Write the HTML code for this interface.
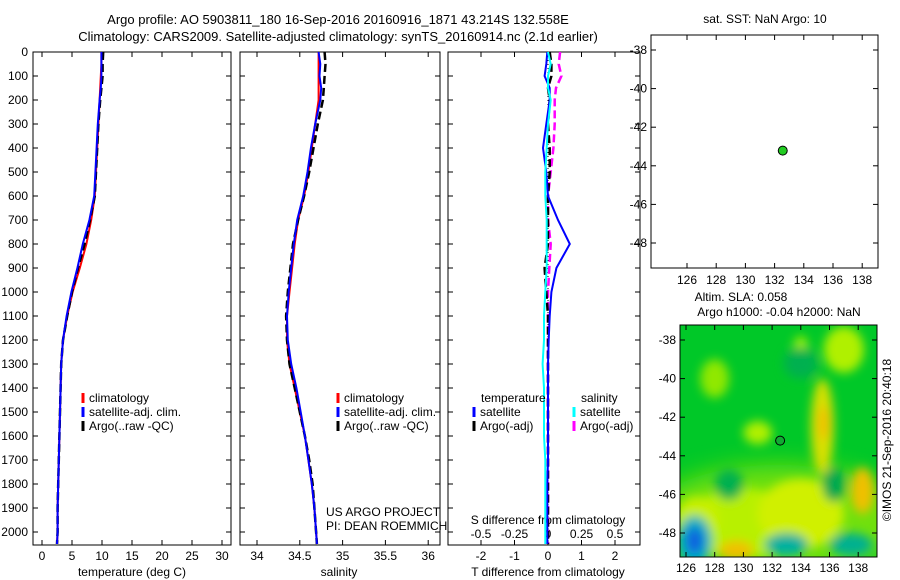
<!DOCTYPE html>
<html><head><meta charset="utf-8"><style>
body{margin:0;background:#fff}
svg{display:block;font-family:"Liberation Sans",sans-serif}
text{font-size:12px;fill:#000}
</style></head><body>
<svg id="c" width="900" height="580" viewBox="0 0 900 580" xmlns="http://www.w3.org/2000/svg">
<defs><filter id="bl" x="-50%" y="-50%" width="200%" height="200%"><feGaussianBlur stdDeviation="5"/></filter>
<filter id="bl2" x="-50%" y="-50%" width="200%" height="200%"><feGaussianBlur stdDeviation="12"/></filter>
<clipPath id="mc"><rect x="680" y="325" width="197" height="232"/></clipPath></defs>
<text x="338" y="24" text-anchor="middle" style="font-size:13px">Argo profile: AO 5903811_180 16-Sep-2016 20160916_1871 43.214S 132.558E</text>
<text x="338" y="41" text-anchor="middle" style="font-size:13px">Climatology: CARS2009. Satellite-adjusted climatology: synTS_20160914.nc (2.1d earlier)</text>
<g id="g"></g>
</svg>
<script>
// depth levels
const depths=[0,50,100,150,200,300,400,500,600,700,800,900,1000,1100,1200,1300,1400,1500,1600,1700,1800,1900,2000,2050];
const tempClim=[9.9,9.9,9.8,9.7,9.6,9.4,9.2,9.0,8.8,8.2,7.4,6.3,5.1,4.2,3.5,3.2,3.1,3.0,2.9,2.8,2.7,2.6,2.6,2.5];
const tempSat=[9.9,9.9,9.9,9.8,9.6,9.3,9.1,8.9,8.7,7.9,6.8,5.9,4.9,4.1,3.5,3.2,3.1,3.0,2.9,2.8,2.7,2.6,2.6,2.5];
const tempArgo=[10.2,10.1,10.1,9.9,9.7,9.4,9.2,9.0,8.8,8.0,7.1,6.0,5.0,4.2,3.5,3.2,3.1,3.0,2.9,2.8,2.7,2.6,2.6,2.5];
const salClim=[34.72,34.72,34.72,34.72,34.72,34.68,34.64,34.60,34.55,34.48,34.44,34.41,34.38,34.35,34.35,34.38,34.44,34.50,34.56,34.60,34.64,34.67,34.69,34.70];
const salSat=[34.72,34.74,34.73,34.75,34.74,34.68,34.63,34.59,34.54,34.47,34.43,34.40,34.37,34.35,34.36,34.40,34.46,34.51,34.56,34.60,34.64,34.67,34.69,34.70];
const salArgo=[34.79,34.80,34.79,34.78,34.77,34.71,34.66,34.61,34.55,34.48,34.42,34.39,34.36,34.34,34.35,34.38,34.44,34.50,34.56,34.61,34.65,34.67,34.69,34.70];
const dTsat=[-0.02,-0.05,-0.1,0.05,0.05,-0.05,-0.15,-0.05,0.0,0.3,0.65,0.25,0.1,0.05,0.02,0.0,0.0,0.0,0.0,0.0,-0.02,-0.02,-0.02,-0.02];
const dTargo=[0.05,0.1,0.1,0.0,0.05,0.0,0.05,0.05,0.0,0.0,0.0,-0.1,-0.05,0.0,0.0,0.0,0.0,0.0,0.0,0.0,0.0,0.0,0.0,0.0];
const dSsat=[0.0,0.02,0.0,0.0,0.02,0.0,-0.01,-0.02,-0.02,-0.01,-0.01,-0.01,-0.02,-0.03,-0.03,-0.04,-0.03,-0.03,-0.03,-0.02,-0.02,-0.02,-0.02,-0.02];
const dSargo=[0.09,0.08,0.1,0.06,0.05,0.05,0.04,0.02,0.0,0.0,0.02,0.01,0.0,0.0,0.0,0.0,0.0,0.0,0.0,0.0,0.0,0.0,0.0,0.0];
const depthTicks=[0,100,200,300,400,500,600,700,800,900,1000,1100,1200,1300,1400,1500,1600,1700,1800,1900,2000];
const tempTicks=[0,5,10,15,20,25,30];
const salTicks=[34,34.5,35,35.5,36];
const dTTicks=[-2,-1,0,1,2];
const dSTicks=[-0.5,-0.25,0,0.25,0.5];
const sstLonTicks=[126,128,130,132,134,136,138];
const sstLatTicks=[-38,-40,-42,-44,-46,-48];
const argoLon=132.558, argoLat=-43.214;

const NS='http://www.w3.org/2000/svg';const G=document.getElementById('g');
function el(t,a,p){const e=document.createElementNS(NS,t);for(const k in a)e.setAttribute(k,a[k]);(p||G).appendChild(e);return e;}
function txt(s,x,y,anc,size,name){const e=el('text',{x:x,y:y,'text-anchor':anc||'start'});if(size)e.style.fontSize=size+'px';e.textContent=s;


return e;}
const Y=d=>52+d*0.24;
const xT=v=>42+v*6;
const xS=v=>257+(v-34)*85.6;
const xDT=v=>548+v*33.5;
const xDS=v=>548+v*134;

function frame(x0,x1,y0,y1,name){const r=el('rect',{x:x0,y:y0,width:x1-x0,height:y1-y0,fill:'none',stroke:'#000','stroke-width':1});

}
function xticks(ticks,fx,y0,y1,ly,name){ticks.forEach(t=>{const x=fx(t);
el('line',{x1:x,x2:x,y1:y1,y2:y1-5,stroke:'#000'});el('line',{x1:x,x2:x,y1:y0,y2:y0+5,stroke:'#000'});
if(ly)txt(String(t),x,ly,'middle',12,name);});}
function yticks(x0,x1,labels){depthTicks.forEach(d=>{const y=Y(d);el('line',{x1:x0,x2:x0+5,y1:y,y2:y,stroke:'#000'});el('line',{x1:x1,x2:x1-5,y1:y,y2:y,stroke:'#000'});
if(labels)txt(String(d),28,y+4,'end',12,'depth-tick-label');});}
function line(vals,fx,color,w,dash,name){const pts=vals.map((v,i)=>fx(v).toFixed(1)+','+Y(depths[i]).toFixed(1)).join(' ');
const p=el('polyline',{points:pts,fill:'none',stroke:color,'stroke-width':w});if(dash)p.setAttribute('stroke-dasharray',dash);

}
function legItem(x,y,color,label,name){el('line',{x1:x,x2:x,y1:y-9,y2:y+1,stroke:color,'stroke-width':3});txt(label,x+6,y,'start',12,name);}

// panel 1
frame(33,231,52,545,'temperature-panel');yticks(33,231,true);
xticks(tempTicks,xT,52,545,560,'temperature-tick-label');
txt('temperature (deg C)',132,576,'middle',12,'temperature-axis-title');
line(tempClim,xT,'#f00',2,null,'temp-climatology-line');
line(tempArgo,xT,'#000',2.5,'8,4','temp-argo-line');
line(tempSat,xT,'#00f',2,null,'temp-satellite-line');
legItem(83,402,'#f00','climatology','legend-climatology');legItem(83,416,'#00f','satellite-adj. clim.','legend-satellite');legItem(83,430,'#000','Argo(..raw -QC)','legend-argo');

// panel 2
frame(240,440,52,545,'salinity-panel');yticks(240,440,false);
xticks(salTicks,xS,52,545,560,'salinity-tick-label');
txt('salinity',339,576,'middle',12,'salinity-axis-title');
line(salClim,xS,'#f00',2,null,'sal-climatology-line');
line(salArgo,xS,'#000',2.5,'8,4','sal-argo-line');
line(salSat,xS,'#00f',2,null,'sal-satellite-line');
legItem(338,402,'#f00','climatology','legend-climatology');legItem(338,416,'#00f','satellite-adj. clim.','legend-satellite');legItem(338,430,'#000','Argo(..raw -QC)','legend-argo');
txt('US ARGO PROJECT',326,516,'start',12,'project-label');txt('PI: DEAN ROEMMICH',326,530,'start',12,'pi-label');

// panel 3
frame(448,640,52,545,'difference-panel');yticks(448,640,false);
xticks(dTTicks,xDT,52,545,560,'t-diff-tick-label');
dSTicks.forEach(t=>txt(String(t),xDS(t),538,'middle',12,'s-diff-tick-label'));
txt('S difference from climatology',548,524,'middle',12,'s-diff-axis-title');
txt('T difference from climatology',548,576,'middle',12,'t-diff-axis-title');
el('line',{x1:548,x2:548,y1:52,y2:545,stroke:'#000','stroke-dasharray':'1,3'});
line(dSargo,xDS,'#f0f',2.5,'8,4','s-diff-argo-line');
line(dTargo,xDT,'#000',2.5,'8,4','t-diff-argo-line');
line(dTsat,xDT,'#00f',2,null,'t-diff-satellite-line');
line(dSsat,xDS,'#0ff',2,null,'s-diff-satellite-line');
txt('temperature',481,402,'start',12,'legend-temperature-header');txt('salinity',581,402,'start',12,'legend-salinity-header');
legItem(474,416,'#00f','satellite','legend-t-satellite');legItem(474,430,'#000','Argo(-adj)','legend-t-argo');
legItem(574,416,'#0ff','satellite','legend-s-satellite');legItem(574,430,'#f0f','Argo(-adj)','legend-s-argo');

// panel 4: SST
const lonS=v=>687+(v-126)*14.6, latS=v=>50+(-38-v)*19.3;
frame(651,878,35,268,'sst-map');
txt('sat. SST: NaN Argo: 10',765,23,'middle',12,'sst-title');
sstLonTicks.forEach(t=>{const x=lonS(t);el('line',{x1:x,x2:x,y1:268,y2:263,stroke:'#000'});el('line',{x1:x,x2:x,y1:35,y2:40,stroke:'#000'});txt(String(t),x,284,'middle',12,'sst-lon-tick');});
sstLatTicks.forEach(t=>{const y=latS(t);el('line',{x1:651,x2:656,y1:y,y2:y,stroke:'#000'});el('line',{x1:878,x2:873,y1:y,y2:y,stroke:'#000'});txt(String(t),647,y+4,'end',12,'sst-lat-tick');});
const dot=el('circle',{cx:lonS(argoLon),cy:latS(argoLat),r:4.5,fill:'#2c2',stroke:'#000'});



// panel 5: SLA map
const lonA=v=>686+(v-126)*14.35, latA=v=>340+(-38-v)*19.3;
txt('Altim. SLA: 0.058',741,301,'middle',12,'sla-title-1');
txt('Argo h1000: -0.04 h2000: NaN',779,316,'middle',12,'sla-title-2');
const blobs=[
 [130,-47.5,4,1.8,'#b8f000'],[134,-47,3,1.8,'#d0f000'],[126.8,-47.3,1.5,1.2,'#c8f000'],
 [135.5,-42.5,0.8,2.5,'#d8e000'],[138.3,-45.8,0.8,1.2,'#f0c000'],[135.6,-42.3,0.4,0.9,'#f0c000'],
 [137,-38.5,1.4,1.2,'#b0f000'],[128,-40,1,1,'#90e800'],[131,-42.8,1,0.6,'#b0f000'],[134,-38.3,0.5,0.5,'#a0f000'],
 [129.5,-48.9,1.2,0.5,'#f0c000'],[126.6,-48.4,1.2,1.3,'#00b0c0'],[126.6,-48.4,0.6,0.7,'#1060e0'],
 [133,-48.6,1.5,0.6,'#00b0a0'],[137.5,-48.6,1.5,0.6,'#00b090'],
 [129,-45.5,1,0.8,'#00b050'],[136.3,-45.5,0.8,0.9,'#00a850'],[134,-39.2,1.2,0.8,'#00b050']];
const sla=el('g',{'clip-path':'url(#mc)'});


el('rect',{x:680,y:325,width:197,height:232,fill:'#00c828'},sla);
el('ellipse',{cx:778,cy:520,rx:130,ry:55,fill:'#70e010',filter:'url(#bl2)'},sla);
const bg=el('g',{filter:'url(#bl)'},sla);
blobs.forEach(b=>el('ellipse',{cx:lonA(b[0]),cy:latA(b[1]),rx:b[2]*14.35,ry:b[3]*19.3,fill:b[4]},bg));
frame(680,877,325,557,'sla-map-frame');
sstLonTicks.forEach(t=>{const x=lonA(t);el('line',{x1:x,x2:x,y1:557,y2:552,stroke:'#000'});el('line',{x1:x,x2:x,y1:325,y2:330,stroke:'#000'});txt(String(t),x,572,'middle',12,'sla-lon-tick');});
sstLatTicks.forEach(t=>{const y=latA(t);el('line',{x1:680,x2:685,y1:y,y2:y,stroke:'#000'});el('line',{x1:877,x2:872,y1:y,y2:y,stroke:'#000'});txt(String(t),676,y+4,'end',12,'sla-lat-tick');});
const d2=el('circle',{cx:lonA(argoLon),cy:latA(argoLat),r:4.5,fill:'#1a3',stroke:'#000'});


const cr=txt('©IMOS 21-Sep-2016 20:40:18',0,0,'middle',12,'imos-credit');
cr.setAttribute('transform','translate(891,440) rotate(-90)');
</script>
</body></html>
